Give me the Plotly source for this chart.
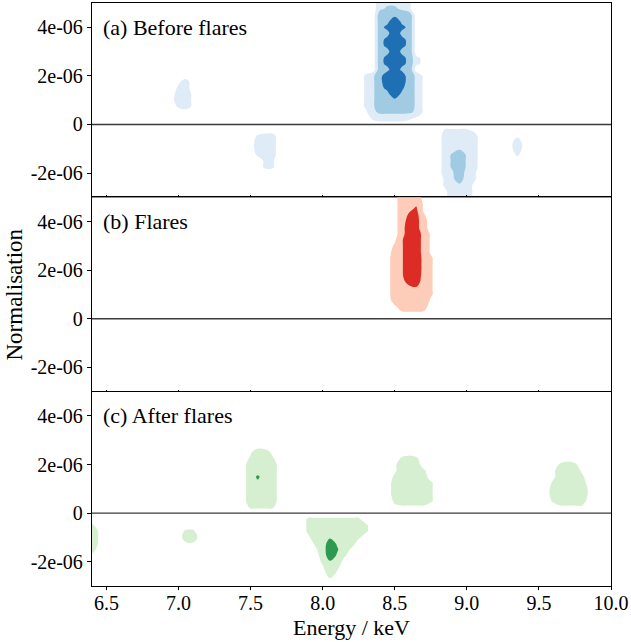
import plotly.graph_objects as go
from plotly.subplots import make_subplots

# ---------------- data ----------------
panel_titles = ["(a) Before flares", "(b) Flares", "(c) After flares"]
x_tickvals = [6.5, 7.0, 7.5, 8.0, 8.5, 9.0, 9.5, 10.0]
x_ticktext = ["6.5", "7.0", "7.5", "8.0", "8.5", "9.0", "9.5", "10.0"]
y_tickvals = [-2e-06, 0, 2e-06, 4e-06]
y_ticktext = ["-2e-06", "0", "2e-06", "4e-06"]
energy_range = [6.4, 10.0]
norm_range = [-3e-06, 5e-06]

# grid on which the significance maps were read (energy step 0.05 keV, norm step 0.25e-6)
energy_grid = [round(6.4 + 0.05 * i, 2) for i in range(73)]
norm_grid = [round(-3.0 + 0.25 * j, 2) * 1e-06 for j in range(33)]

# level maps, top row = 5e-06, bottom row = -3e-06
z_before = [
    "..........|..........|..........|..........|44442.....|..........|..........|...",
    "..........|..........|..........|..........|45542.....|..........|..........|...",
    "..........|..........|..........|..........|77777.....|..........|..........|...",
    "..........|..........|..........|..........|77977.....|..........|..........|...",
    "..........|..........|..........|..........|78987.....|..........|..........|...",
    "..........|..........|..........|..........|77977.....|..........|..........|...",
    "..........|..........|..........|..........|78987.....|..........|..........|...",
    "..........|..........|..........|..........|78987.....|..........|..........|...",
    "..........|..........|..........|..........|77977.....|..........|..........|...",
    "..........|..........|..........|..........|7898721...|..........|..........|...",
    "..........|..........|..........|..........|7898721...|..........|..........|...",
    "..........|..........|..........|..........|77977.....|..........|..........|...",
    "..........|..........|..........|........24|7999641...|..........|..........|...",
    "..........|..13......|..........|........24|7999641...|..........|..........|...",
    "..........|..23......|..........|........24|7898641...|..........|..........|...",
    "..........|..331.....|..........|........24|7797641...|..........|..........|...",
    "..........|..431.....|..........|........24|7777641...|..........|..........|...",
    "..........|..231.....|..........|........24|7777641...|..........|..........|...",
    "..........|..........|..........|........14|5555541...|..........|..........|...",
    "..........|..........|..........|.........2|333321....|..........|..........|...",
    "..........|..........|..........|..........|..........|..........|..........|...",
    "..........|..........|..........|..........|.........2|2221......|..........|...",
    "..........|..........|...233....|..........|.........3|3333.....1|..........|...",
    "..........|..........|...333....|..........|.........3|3333.....4|..........|...",
    "..........|..........|...333....|..........|.........3|3433.....4|..........|...",
    "..........|..........|...233....|..........|.........3|5743.....2|..........|...",
    "..........|..........|....22....|..........|.........3|5743......|..........|...",
    "..........|..........|....22....|..........|.........3|5743......|..........|...",
    "..........|..........|..........|..........|.........3|4732......|..........|...",
    "..........|..........|..........|..........|.........2|4632......|..........|...",
    "..........|..........|..........|..........|.........2|3431......|..........|...",
    "..........|..........|..........|..........|.........1|3331......|..........|...",
    "..........|..........|..........|..........|.........1|3331......|..........|...",
]

z_flares = [
    "..........|..........|..........|..........|...444....|..........|..........|...",
    "..........|..........|..........|..........|...4451...|..........|..........|...",
    "..........|..........|..........|..........|...4561...|..........|..........|...",
    "..........|..........|..........|..........|...4672...|..........|..........|...",
    "..........|..........|..........|..........|...4773...|..........|..........|...",
    "..........|..........|..........|..........|...4873...|..........|..........|...",
    "..........|..........|..........|..........|...48841..|..........|..........|...",
    "..........|..........|..........|..........|..159841..|..........|..........|...",
    "..........|..........|..........|..........|..259841..|..........|..........|...",
    "..........|..........|..........|..........|..359841..|..........|..........|...",
    "..........|..........|..........|..........|..459942..|..........|..........|...",
    "..........|..........|..........|..........|..459942..|..........|..........|...",
    "..........|..........|..........|..........|..459942..|..........|..........|...",
    "..........|..........|..........|..........|..458842..|..........|..........|...",
    "..........|..........|..........|..........|..456742..|..........|..........|...",
    "..........|..........|..........|..........|..445542..|..........|..........|...",
    "..........|..........|..........|..........|..444442..|..........|..........|...",
    "..........|..........|..........|..........|..344441..|..........|..........|...",
    "..........|..........|..........|..........|..13443...|..........|..........|...",
    "..........|..........|..........|..........|...1111...|..........|..........|...",
] + ["..........|..........|..........|..........|..........|..........|..........|..."] * 13

z_after = ["..........|..........|..........|..........|..........|..........|..........|..."] * 10 + [
    "..........|..........|..1431....|..........|..........|..........|..........|...",
    "..........|..........|..2442....|..........|...232....|..........|..........|...",
    "..........|..........|..4444....|..........|..1333....|..........|.....232..|...",
    "..........|..........|..4444....|..........|..13332...|..........|....13331.|...",
    "..........|..........|..4644....|..........|..23333...|..........|....13332.|...",
    "..........|..........|..4544....|..........|..333332..|..........|....23333.|...",
    "..........|..........|..4444....|..........|..333332..|..........|....333331|...",
    "..........|..........|..4444....|..........|..333332..|..........|....333331|...",
    "..........|..........|..4444....|..........|..233332..|..........|....23333.|...",
    "..........|..........|..2222....|..........|..11111...|..........|.....1111.|...",
    "..........|..........|..........|..........|..........|..........|..........|...",
    "..........|..........|..........|22222222..|..........|..........|..........|...",
    "2.........|..........|..........|233333332.|..........|..........|..........|...",
    "41........|...22.....|..........|233333332.|..........|..........|..........|...",
    "41........|...34.....|..........|13354332..|..........|..........|..........|...",
    "41........|...11.....|..........|.238533...|..........|..........|..........|...",
    "3.........|..........|..........|.139631...|..........|..........|..........|...",
    "1.........|..........|..........|..3852....|..........|..........|..........|...",
    "..........|..........|..........|..254.....|..........|..........|..........|...",
    "..........|..........|..........|..142.....|..........|..........|..........|...",
    "..........|..........|..........|...31.....|..........|..........|..........|...",
    "..........|..........|..........|...1......|..........|..........|..........|...",
    "..........|..........|..........|..........|..........|..........|..........|...",
]

# contour levels and colours per panel
levels_before = dict(start=1.5, end=7.5, size=3)
levels_flares = dict(start=1.5, end=5.5, size=4)
levels_after = dict(start=1.5, end=5.5, size=4)
colors_before = ["#ffffff", "#dfebf7", "#a0cbe2", "#1f6fb4"]
colors_flares = ["#ffffff", "#fdcdb9", "#dd2b25"]
colors_after = ["#ffffff", "#d5efd0", "#2e9a4f"]


def parse(rows):
    out = []
    for r in rows:
        s = r.replace("|", "")
        assert len(s) == 73, (r, len(s))
        out.append([0 if c == "." else int(c) for c in s])
    assert len(out) == 33
    return out[::-1]


def scale(colors):
    n = len(colors) - 1
    return [[i / n, c] for i, c in enumerate(colors)]


FONT = "Liberation Serif"
fig = make_subplots(rows=3, cols=1, shared_xaxes=True, vertical_spacing=0)

panels = [
    (z_before, levels_before, colors_before),
    (z_flares, levels_flares, colors_flares),
    (z_after, levels_after, colors_after),
]
for k, (rows, lev, cols) in enumerate(panels, start=1):
    fig.add_trace(
        go.Contour(
            x=energy_grid, y=norm_grid, z=parse(rows),
            autocontour=False,
            contours=dict(start=lev["start"], end=lev["end"], size=lev["size"],
                          coloring="fill", showlines=False),
            colorscale=scale(cols), showscale=False,
            line=dict(width=0, smoothing=1.0),
            hoverinfo="skip",
        ),
        row=k, col=1,
    )
    sfx = "" if k == 1 else str(k)
    fig.add_shape(type="line", xref=f"x{sfx} domain", yref=f"y{sfx}",
                  x0=0, x1=1, y0=0, y1=0,
                  line=dict(color="#3a3a3a", width=1.4), layer="above")
    fig.add_annotation(text=panel_titles[k - 1], xref=f"x{sfx} domain", yref=f"y{sfx} domain",
                       x=0.018, y=0.876, xanchor="left", yanchor="middle", showarrow=False,
                       font=dict(family=FONT, size=22, color="black"))
    fig.update_yaxes(range=norm_range, tickvals=y_tickvals, ticktext=y_ticktext,
                     ticks="outside", ticklen=4, tickwidth=1, tickcolor="black",
                     showline=True, mirror=True, linecolor="black", linewidth=1.3,
                     showgrid=False, zeroline=False,
                     tickfont=dict(family=FONT, size=20, color="black"),
                     row=k, col=1)
    fig.update_xaxes(range=energy_range, tickvals=x_tickvals, ticktext=x_ticktext,
                     ticks="outside" if k == 3 else "inside", ticklen=3 if k == 3 else 2,
                     tickwidth=1, tickcolor="black",
                     showline=True, mirror=True, linecolor="black", linewidth=1.3,
                     showgrid=False, zeroline=False,
                     tickfont=dict(family=FONT, size=20, color="black"),
                     row=k, col=1)

fig.update_xaxes(ticklabelstandoff=-4, row=3, col=1)

fig.add_annotation(text="Normalisation", xref="paper", yref="paper", x=0, y=0.5,
                   xshift=-78, textangle=-90, showarrow=False,
                   xanchor="center", yanchor="middle",
                   font=dict(family=FONT, size=23, color="black"))
fig.add_annotation(text="Energy / keV", xref="paper", yref="paper", x=0.5, y=0,
                   yshift=-41, showarrow=False, xanchor="center", yanchor="middle",
                   font=dict(family=FONT, size=22, color="black"))

fig.update_layout(width=631, height=642, margin=dict(l=92, r=20, t=3, b=56),
                  paper_bgcolor="white", plot_bgcolor="white",
                  font=dict(family=FONT, color="black"), showlegend=False)

fig.write_html("out.html")
